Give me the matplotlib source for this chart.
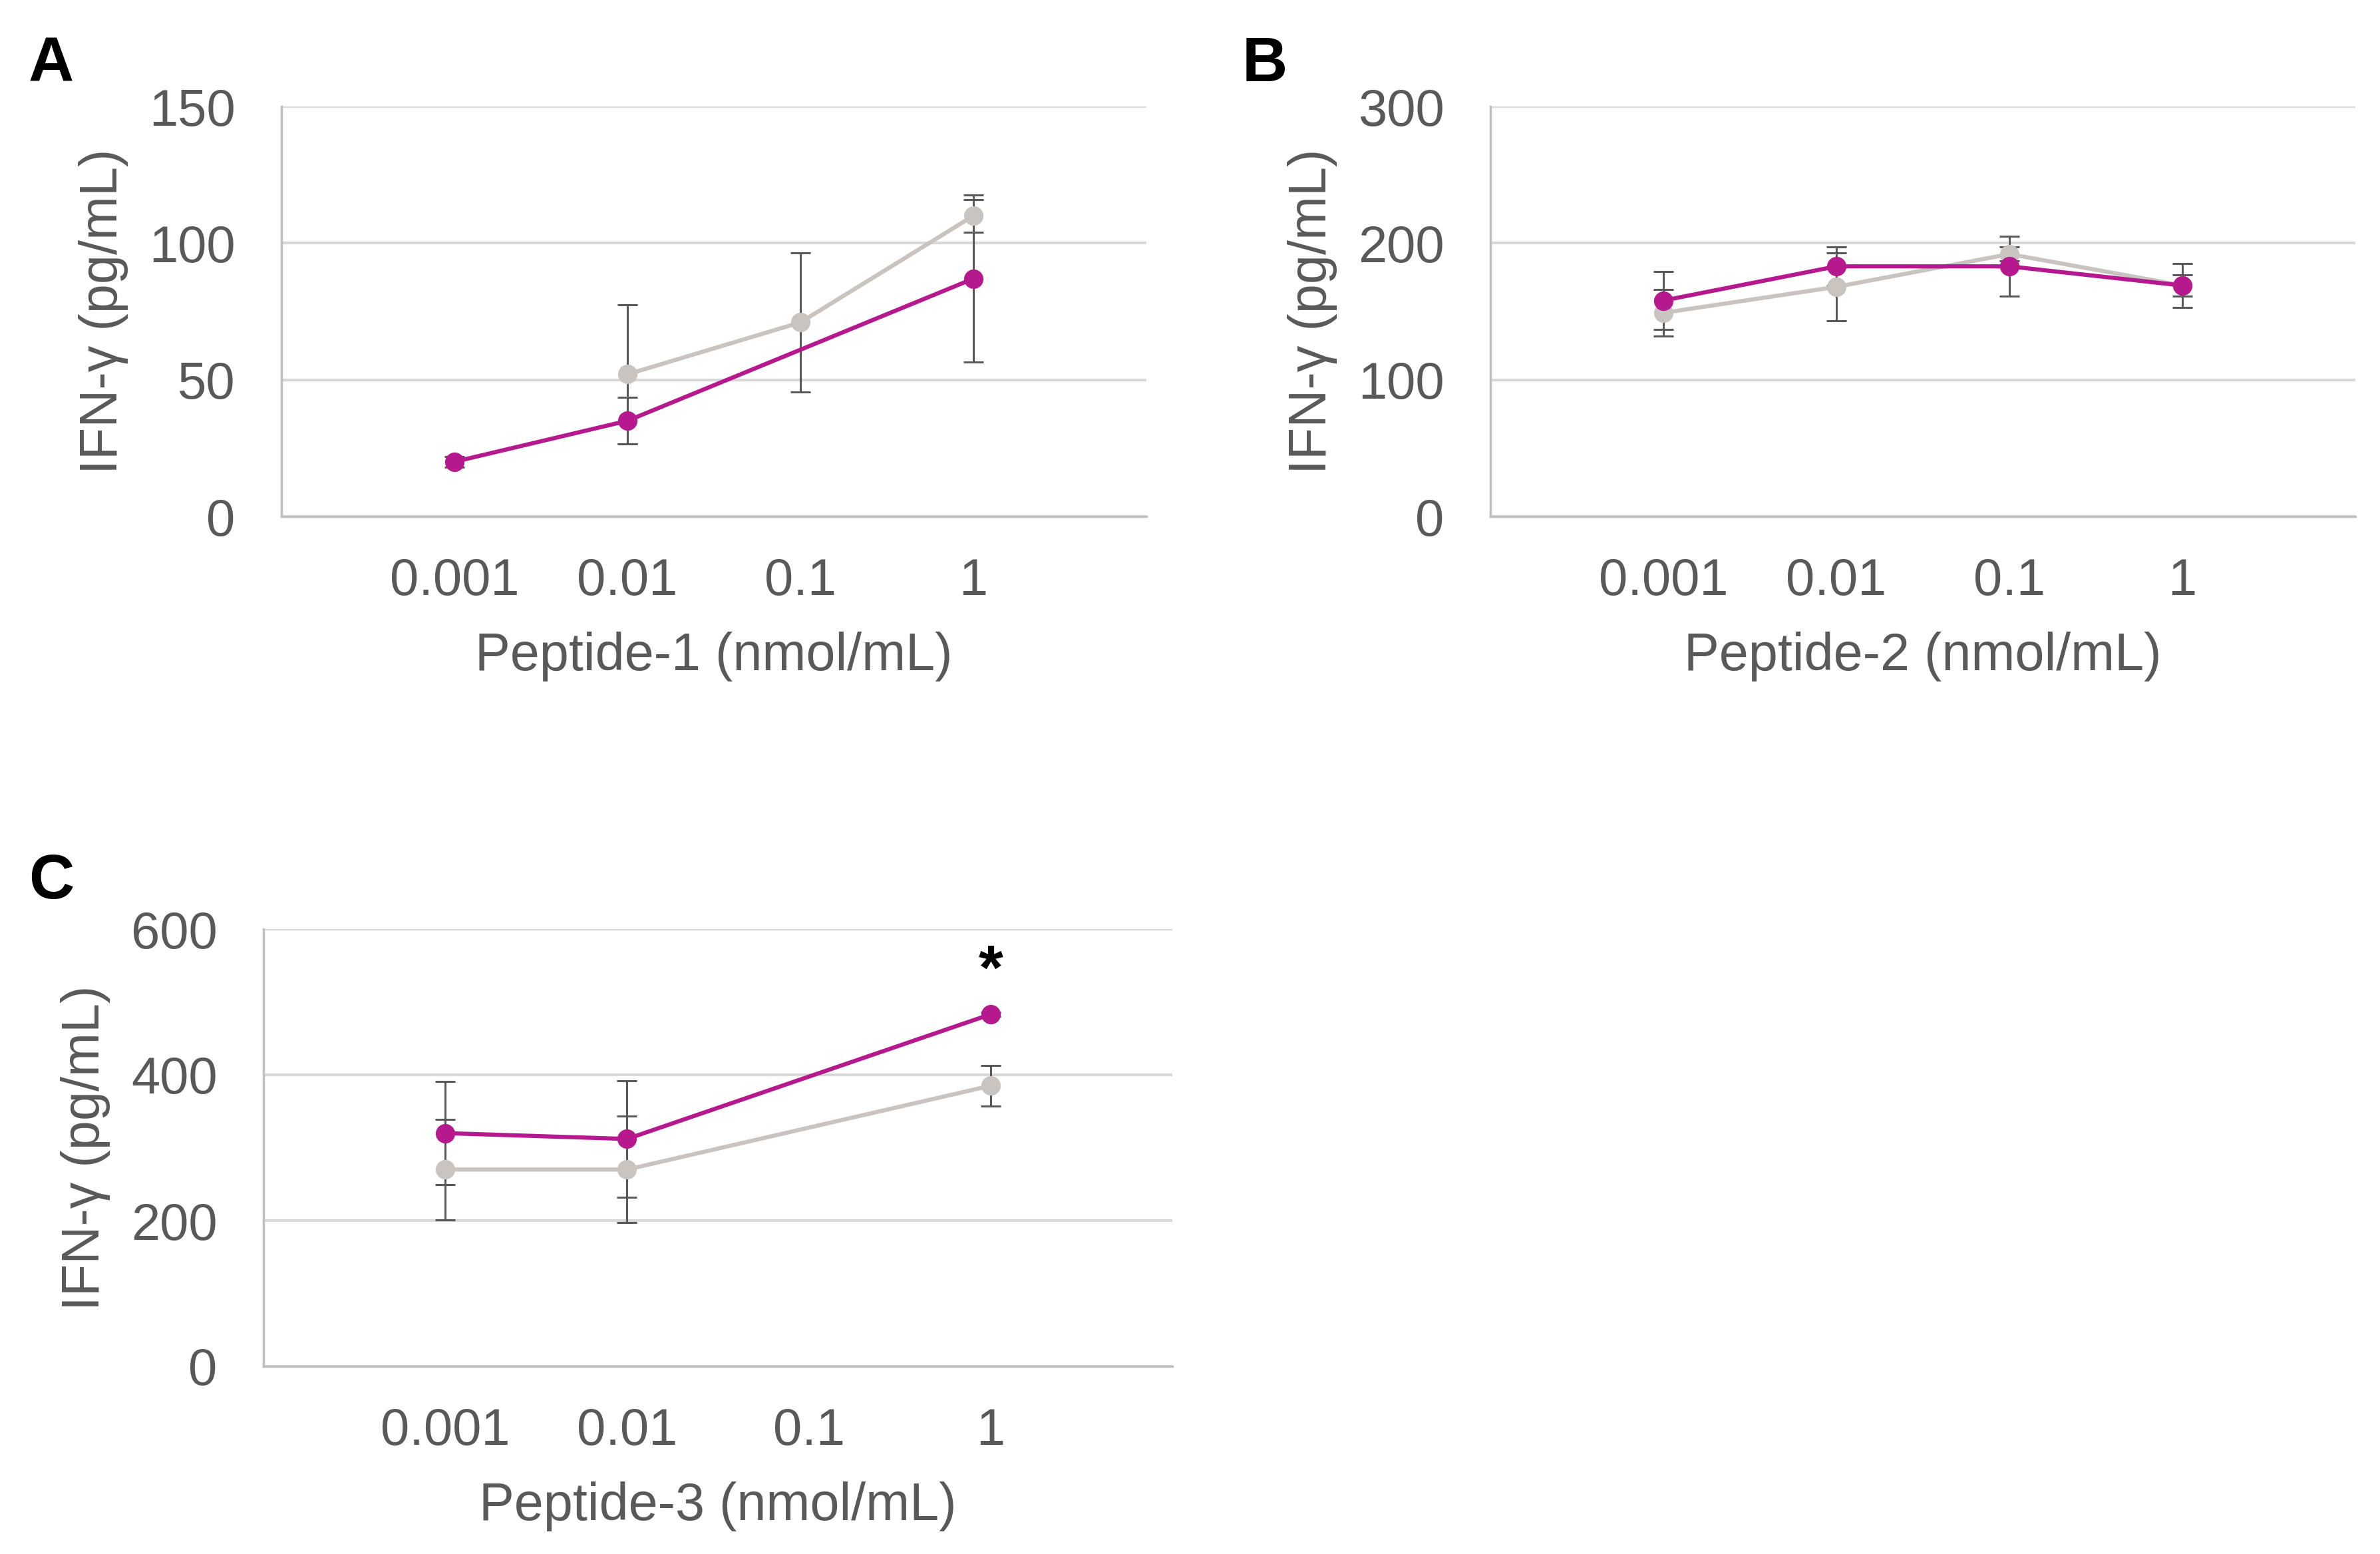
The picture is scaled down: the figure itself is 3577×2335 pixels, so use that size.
import numpy as np
import matplotlib
matplotlib.use("Agg")
import matplotlib.pyplot as plt

plt.rcParams['font.family'] = ['Liberation Sans', 'DejaVu Sans']

# concentrations shown on the x axis (categorical)
conc_labels = ['0.001', '0.01', '0.1', '1']

# Panel A - Peptide-1
a_magenta = [20, 35, np.nan, 87]
a_magenta_err = [2, 8.5, np.nan, 30.5]
a_gray = [np.nan, 52, 71, 110]
a_gray_err = [np.nan, 25.5, 25.5, 6]

# Panel B - Peptide-2
b_magenta = [158, 183, 183, 169]
b_magenta_err = [21, 14, 22, 8]
b_gray = [149, 168, 192, 169]
b_gray_err = [17, 25, 5, 16]

# Panel C - Peptide-3
c_magenta = [320, 312, np.nan, 483]
c_magenta_err = [71, 80, np.nan, 3]
c_gray = [270, 270, np.nan, 385]
c_gray_err = [69, 73, np.nan, 28]

MAGENTA = '#B5198D'
GRAY = '#C9C4BF'
ERR = '#595959'
TXT = '#595959'
GRID = '#D9D9D9'
AXIS = '#BFBFBF'

DPI = 100
W, H = 3577, 2335


def add_axes(fig, left, top, right, bottom):
    return fig.add_axes([left / W, 1 - bottom / H, (right - left) / W, (bottom - top) / H])


def panel(ax, mag, mag_err, gry, gry_err, ymax, xlabel):
    x = np.arange(1, len(conc_labels) + 1)
    mag = np.array(mag, dtype=float)
    gry = np.array(gry, dtype=float)
    mag_err = np.array(mag_err, dtype=float)
    gry_err = np.array(gry_err, dtype=float)

    for vals, errs in [(gry, gry_err), (mag, mag_err)]:
        ok = ~np.isnan(vals) & ~np.isnan(errs)
        ax.errorbar(x[ok], vals[ok], yerr=errs[ok], fmt='none', ecolor=ERR,
                    elinewidth=2.2, capsize=11, capthick=2.2, zorder=2)

    # lines skip missing points (connected like Excel)
    ok = ~np.isnan(gry)
    ax.plot(x[ok], gry[ok], '-o', color=GRAY, lw=4.5, ms=20, zorder=3)
    ok = ~np.isnan(mag)
    ax.plot(x[ok], mag[ok], '-o', color=MAGENTA, lw=4.5, ms=20, zorder=4)

    ax.set_xlim(0, 5)
    ax.set_ylim(0, ymax)
    ax.set_yticks(np.linspace(0, ymax, 4))
    ax.set_xticks(x)
    ax.set_xticklabels(conc_labels)
    ax.yaxis.grid(True, color=GRID, lw=3)
    ax.set_axisbelow(True)
    for s in ['top', 'right']:
        ax.spines[s].set_visible(False)
    for s in ['left', 'bottom']:
        ax.spines[s].set_color(AXIS)
        ax.spines[s].set_linewidth(2.5)
    ax.tick_params(axis='both', length=0, labelsize=56, labelcolor=TXT)
    ax.tick_params(axis='y', pad=50)
    ax.tick_params(axis='x', pad=44)
    ax.set_xlabel(xlabel, fontsize=57, color=TXT, labelpad=28)
    ax.set_ylabel('IFN-γ (pg/mL)', fontsize=57, color=TXT, labelpad=22)


fig = plt.figure(figsize=(W / DPI, H / DPI), dpi=DPI)

axA = add_axes(fig, 423, 160, 1723, 776)
panel(axA, a_magenta, a_magenta_err, a_gray, a_gray_err, 150, 'Peptide-1 (nmol/mL)')

axB = add_axes(fig, 2240, 160, 3540, 776)
panel(axB, b_magenta, b_magenta_err, b_gray, b_gray_err, 300, 'Peptide-2 (nmol/mL)')

axC = add_axes(fig, 396, 1396, 1762, 2053)
panel(axC, c_magenta, c_magenta_err, c_gray, c_gray_err, 600, 'Peptide-3 (nmol/mL)')

# significance mark
axC.text(4, 540, '*', ha='center', va='center', fontsize=68, fontweight='bold', color='black')

# panel letters
for letter, (px, py) in {'A': (43, 53), 'B': (1867, 53), 'C': (43, 1281)}.items():
    fig.text(px / W, 1 - py / H, letter, ha='left', va='top', fontsize=68,
             fontweight='bold', color='black')

fig.savefig('out.png', dpi=DPI)
